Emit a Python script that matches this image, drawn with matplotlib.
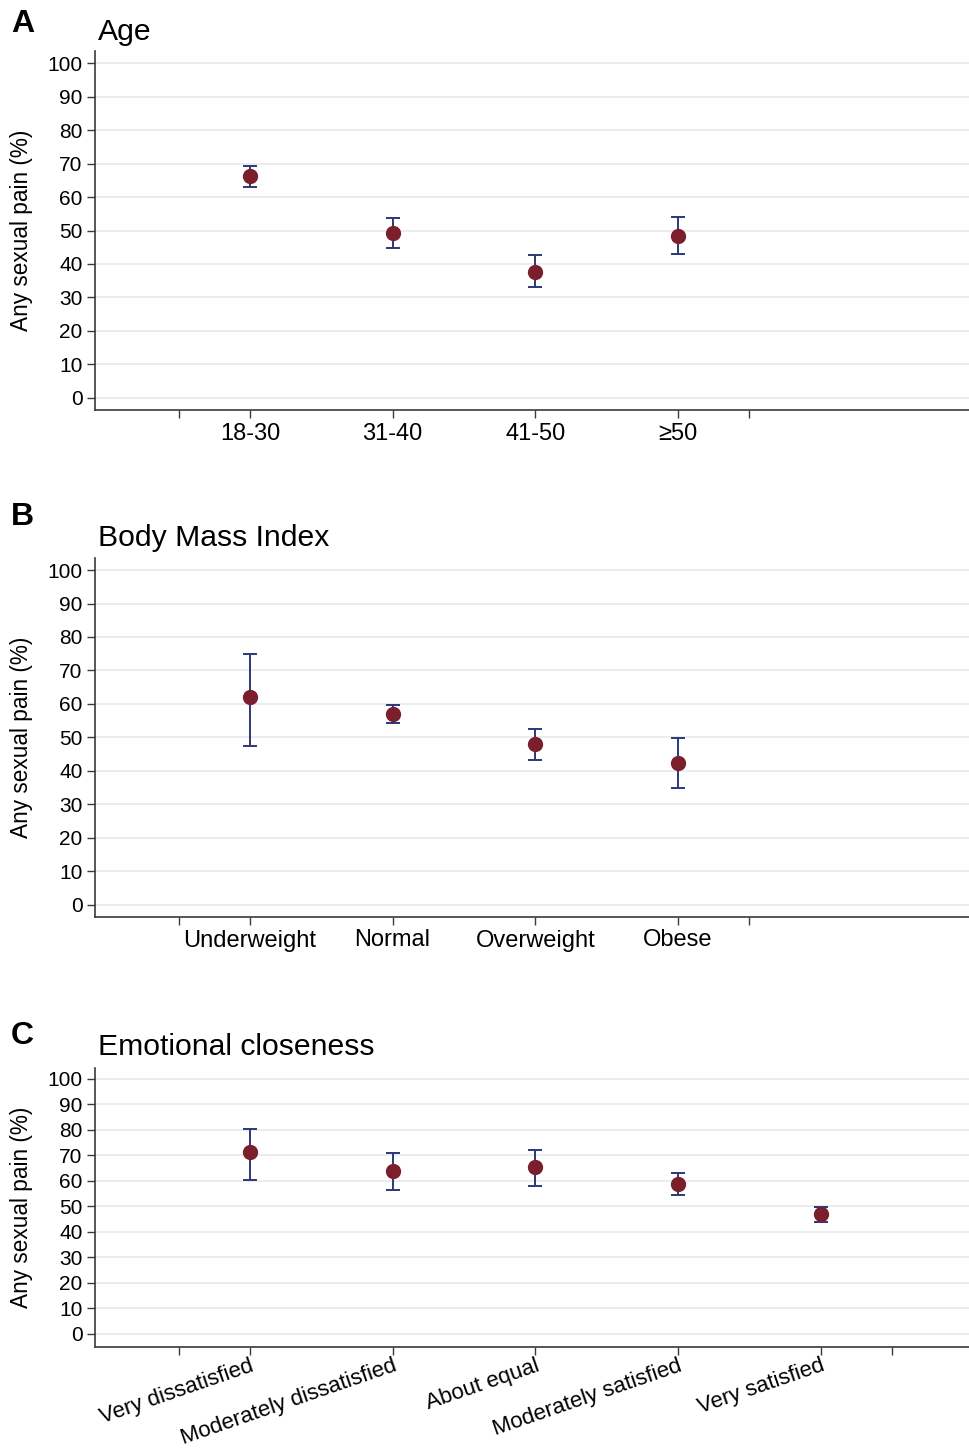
import matplotlib
matplotlib.use("Agg")
import matplotlib.pyplot as plt
import numpy as np

plt.rcParams['font.family'] = ['Liberation Sans', 'DejaVu Sans']

# ---- data ----
age_labels = ['18-30', '31-40', '41-50', '≥50']
age_est = [66.3, 49.2, 37.7, 48.4]
age_lo = [62.9, 44.7, 33.2, 42.9]
age_hi = [69.4, 53.6, 42.7, 53.9]

bmi_labels = ['Underweight', 'Normal', 'Overweight', 'Obese']
bmi_est = [62.2, 57.0, 47.9, 42.2]
bmi_lo = [47.4, 54.4, 43.3, 35.0]
bmi_hi = [75.0, 59.7, 52.5, 49.7]

emo_labels = ['Very dissatisfied', 'Moderately dissatisfied', 'About equal',
              'Moderately satisfied', 'Very satisfied']
emo_est = [71.3, 63.9, 65.4, 59.0, 46.9]
emo_lo = [60.2, 56.3, 58.1, 54.6, 44.0]
emo_hi = [80.3, 70.9, 72.3, 63.2, 49.9]

yticks = list(range(0, 101, 10))

W, H = 969, 1450
fig = plt.figure(figsize=(W / 100, H / 100), dpi=100)

marker_c = '#7a1f2b'
err_c = '#2c3878'
grid_c = '#e6eaee'
spine_c = '#3a3a3a'

def px_rect(left, top, right, bottom):
    return [left / W, 1 - bottom / H, (right - left) / W, (bottom - top) / H]

panels = [
    dict(rect=px_rect(95, 51, 969, 410), ylim=(-3.6, 103.6), labels=age_labels,
         est=age_est, lo=age_lo, hi=age_hi, title='Age', letter='A',
         title_y=40, letter_y=32, rot=0),
    dict(rect=px_rect(95, 558, 969, 917), ylim=(-3.7, 103.6), labels=bmi_labels,
         est=bmi_est, lo=bmi_lo, hi=bmi_hi, title='Body Mass Index', letter='B',
         title_y=546, letter_y=525, rot=0),
    dict(rect=px_rect(95, 1068, 969, 1347), ylim=(-5.1, 104.3), labels=emo_labels,
         est=emo_est, lo=emo_lo, hi=emo_hi, title='Emotional closeness', letter='C',
         title_y=1055, letter_y=1044, rot=19),
]

for p in panels:
    ax = fig.add_axes(p['rect'])
    n = len(p['labels'])
    x = np.arange(1, n + 1)
    est = np.array(p['est'])
    lo = np.array(p['lo'])
    hi = np.array(p['hi'])
    ax.errorbar(x, est, yerr=[est - lo, hi - est], fmt='none', ecolor=err_c,
                elinewidth=1.4, capsize=5, capthick=1.4, zorder=3)
    ax.plot(x, est, 'o', color=marker_c, markersize=10, zorder=4)
    ax.set_xlim(-0.086, 6.04)
    ax.set_ylim(*p['ylim'])
    ax.set_yticks(yticks)
    ax.set_yticklabels([str(v) for v in yticks], fontsize=15)
    ticks = [0.5] + list(x) + [n + 0.5]
    ax.set_xticks(ticks)
    if p['rot']:
        ax.set_xticklabels([''] + p['labels'] + [''], fontsize=16,
                           rotation=p['rot'], ha='right', va='top',
                           rotation_mode='anchor')
        ax.tick_params(axis='x', pad=0)
    else:
        ax.set_xticklabels([''] + p['labels'] + [''], fontsize=17)
        ax.tick_params(axis='x', pad=3)
    ax.tick_params(axis='both', direction='out', length=6, width=1,
                   color=spine_c)
    ax.tick_params(axis='y', pad=3)
    for s in ['top', 'right']:
        ax.spines[s].set_visible(False)
    for s in ['left', 'bottom']:
        ax.spines[s].set_color(spine_c)
        ax.spines[s].set_linewidth(1.2)
    ax.yaxis.grid(True, color=grid_c, linewidth=1.2)
    ax.set_axisbelow(True)
    ax.set_ylabel('Any sexual pain (%)', fontsize=16.3)
    ax.yaxis.set_label_coords(-0.071, 0.5)
    fig.text(98 / W, 1 - p['title_y'] / H, p['title'], fontsize=21.7,
             ha='left', va='baseline')
    fig.text(11 / W, 1 - p['letter_y'] / H, p['letter'], fontsize=23,
             fontweight='bold', ha='left', va='baseline')

fig.savefig('out.png', dpi=100, facecolor='white')
